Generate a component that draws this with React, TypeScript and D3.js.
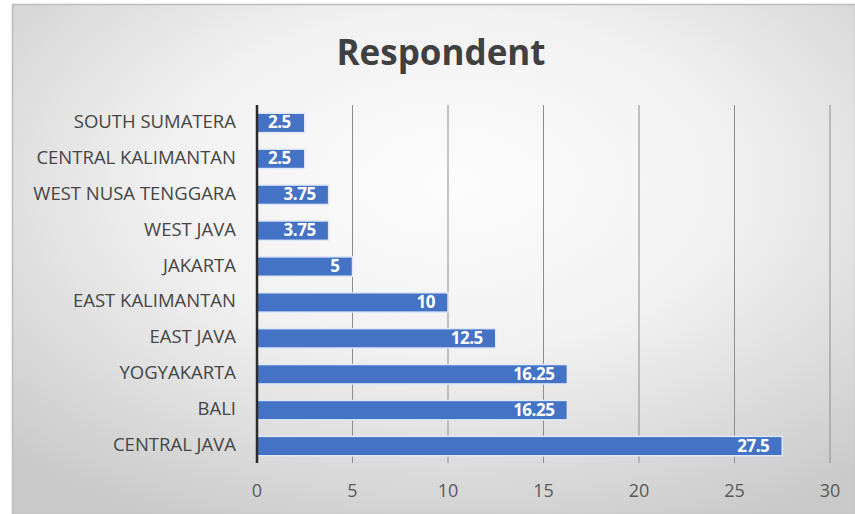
import React from "react";
import * as d3 from "d3";

const categories = [
  "SOUTH SUMATERA",
  "CENTRAL KALIMANTAN",
  "WEST NUSA TENGGARA",
  "WEST JAVA",
  "JAKARTA",
  "EAST KALIMANTAN",
  "EAST JAVA",
  "YOGYAKARTA",
  "BALI",
  "CENTRAL JAVA",
];
const values = [2.5, 2.5, 3.75, 3.75, 5, 10, 12.5, 16.25, 16.25, 27.5];
const xTicks = [0, 5, 10, 15, 20, 25, 30];
const title = "Respondent";

const W = 855;
const H = 514;
const FONT = "'Open Sans', 'Liberation Sans', sans-serif";

export default function App() {
  const x = d3.scaleLinear().domain([0, 30]).range([257, 830]);
  const y = d3
    .scaleBand<string>()
    .domain(categories)
    .range([105, 464])
    .paddingInner(0.46)
    .paddingOuter(0.23);
  const top = 105;
  const bottom = 463;

  return (
    <svg
      width={W}
      height={H}
      style={{ position: "absolute", left: 0, top: 0 }}
      xmlns="http://www.w3.org/2000/svg"
    >
      <defs>
        <radialGradient id="bg" cx="52%" cy="35%" r="75%">
          <stop offset="0%" stopColor="#fdfdfd" />
          <stop offset="45%" stopColor="#f1f1f1" />
          <stop offset="100%" stopColor="#c9c9c9" />
        </radialGradient>
      </defs>
      <rect x={0} y={0} width={W} height={H} fill="#ffffff" />
      <rect x={12} y={4} width={W - 12} height={H - 4} fill="url(#bg)" />
      <rect x={12.5} y={4.5} width={W - 12} height={H - 4} fill="none" stroke="#bdbdbd" strokeWidth={1.5} />
      <text
        x={441}
        y={65}
        textAnchor="middle"
        fontFamily={FONT}
        fontWeight={700}
        fontSize={35}
        fill="#404040"
      >
        {title}
      </text>
      {xTicks.slice(1).map((t) => (
        <line key={t} x1={x(t)} x2={x(t)} y1={top} y2={bottom} stroke="#8c8c8c" strokeWidth={1} />
      ))}
      {categories.map((c, i) => {
        const y0 = y(c)!;
        const bw = y.bandwidth();
        const x0 = x(0);
        const x1 = x(values[i]);
        const small = x1 - x0 < 60;
        return (
          <g key={c}>
            <rect
              x={x0}
              y={y0}
              width={x1 - x0}
              height={bw}
              fill="#4472c4"
              stroke="#dfe8f7"
              strokeWidth={1.5}
            />
            <text
              x={small ? x0 + 11 : x1 - 13}
              y={y0 + bw / 2 + 1}
              dominantBaseline="middle"
              textAnchor={small ? "start" : "end"}
              fontFamily={FONT}
              fontWeight={700}
              fontSize={17}
              fill="#ffffff"
              letterSpacing={-0.5}
            >
              {values[i]}
            </text>
            <text
              x={236}
              y={y0 + bw / 2}
              dominantBaseline="middle"
              textAnchor="end"
              fontFamily={FONT}
              fontSize={18.5}
              fill="#454545"
            >
              {c}
            </text>
          </g>
        );
      })}
      <line x1={x(0)} x2={x(0)} y1={top} y2={bottom} stroke="#2b2b2b" strokeWidth={2.5} />
      {xTicks.map((t) => (
        <text
          key={t}
          x={x(t)}
          y={492}
          dominantBaseline="middle"
          textAnchor="middle"
          fontFamily={FONT}
          fontSize={18}
          fill="#595959"
        >
          {t}
        </text>
      ))}
    </svg>
  );
}
